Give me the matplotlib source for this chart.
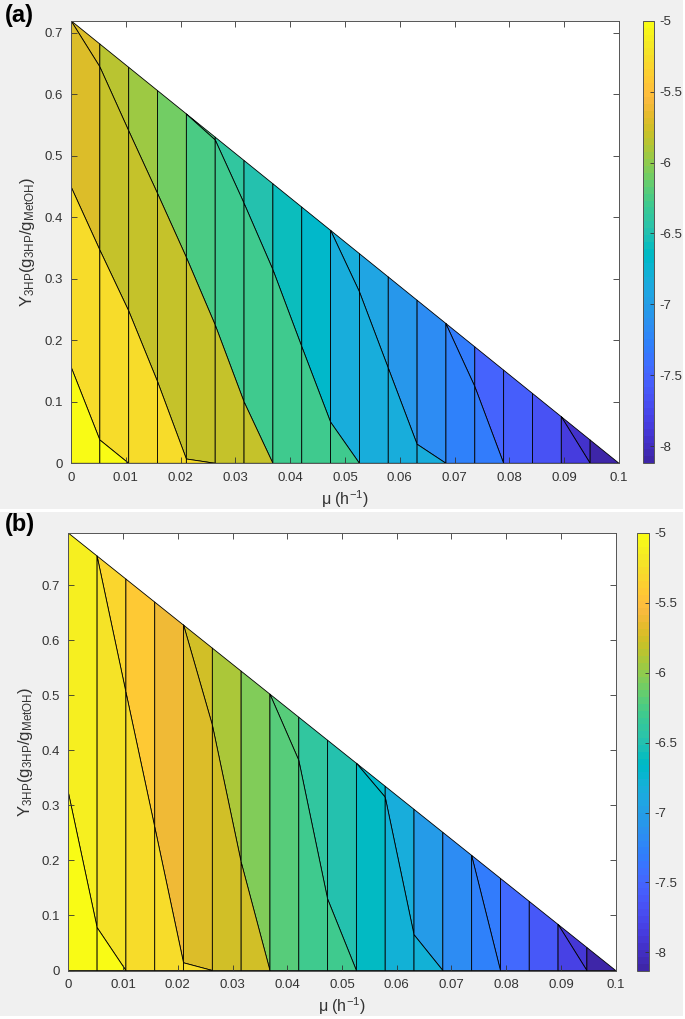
import numpy as np
import matplotlib.pyplot as plt
from matplotlib.collections import PolyCollection
from matplotlib.colors import ListedColormap, Normalize
from matplotlib.patches import Rectangle

plt.rcParams['font.family'] = ['Liberation Sans', 'DejaVu Sans']
plt.rcParams['mathtext.default'] = 'regular'

# MATLAB parula (64 colours)
PARULA = [
    [0.2422, 0.1504, 0.6603], [0.2504, 0.1650, 0.7076], [0.2578, 0.1818, 0.7511], [0.2647, 0.1978, 0.7952],
    [0.2706, 0.2147, 0.8364], [0.2751, 0.2342, 0.8710], [0.2783, 0.2559, 0.8991], [0.2803, 0.2782, 0.9221],
    [0.2813, 0.3006, 0.9414], [0.2810, 0.3228, 0.9579], [0.2795, 0.3447, 0.9717], [0.2760, 0.3667, 0.9829],
    [0.2699, 0.3892, 0.9906], [0.2602, 0.4123, 0.9952], [0.2440, 0.4358, 0.9988], [0.2206, 0.4603, 0.9973],
    [0.1963, 0.4847, 0.9892], [0.1834, 0.5074, 0.9798], [0.1786, 0.5289, 0.9682], [0.1764, 0.5499, 0.9520],
    [0.1687, 0.5703, 0.9359], [0.1540, 0.5902, 0.9218], [0.1460, 0.6091, 0.9079], [0.1380, 0.6276, 0.8973],
    [0.1248, 0.6459, 0.8883], [0.1113, 0.6635, 0.8763], [0.0952, 0.6798, 0.8598], [0.0689, 0.6948, 0.8394],
    [0.0297, 0.7082, 0.8163], [0.0036, 0.7203, 0.7917], [0.0067, 0.7312, 0.7660], [0.0433, 0.7411, 0.7394],
    [0.0964, 0.7500, 0.7120], [0.1408, 0.7584, 0.6842], [0.1717, 0.7670, 0.6554], [0.1938, 0.7758, 0.6251],
    [0.2161, 0.7843, 0.5923], [0.2470, 0.7918, 0.5567], [0.2906, 0.7973, 0.5188], [0.3406, 0.8008, 0.4789],
    [0.3909, 0.8029, 0.4354], [0.4456, 0.8024, 0.3909], [0.5044, 0.7993, 0.3480], [0.5616, 0.7942, 0.3045],
    [0.6174, 0.7876, 0.2612], [0.6720, 0.7793, 0.2227], [0.7242, 0.7698, 0.1910], [0.7738, 0.7598, 0.1646],
    [0.8203, 0.7498, 0.1535], [0.8634, 0.7406, 0.1596], [0.9035, 0.7330, 0.1774], [0.9393, 0.7288, 0.2100],
    [0.9728, 0.7298, 0.2394], [0.9956, 0.7434, 0.2371], [0.9970, 0.7659, 0.2199], [0.9952, 0.7893, 0.2028],
    [0.9892, 0.8136, 0.1885], [0.9786, 0.8386, 0.1766], [0.9676, 0.8639, 0.1643], [0.9610, 0.8890, 0.1537],
    [0.9597, 0.9135, 0.1423], [0.9628, 0.9373, 0.1265], [0.9691, 0.9606, 0.1064], [0.9769, 0.9839, 0.0805]]
parula = ListedColormap(PARULA)

# growth rate grid (20 points, 19 strips)
mu = np.linspace(0, 0.1, 20)
mu_ticks = [0, 0.01, 0.02, 0.03, 0.04, 0.05, 0.06, 0.07, 0.08, 0.09, 0.1]
mu_ticklabels = ['0', '0.01', '0.02', '0.03', '0.04', '0.05', '0.06', '0.07', '0.08', '0.09', '0.1']
y_ticks = [0, 0.1, 0.2, 0.3, 0.4, 0.5, 0.6, 0.7]
cb_ticks = [-8, -7.5, -7, -6.5, -6, -5.5, -5]

# ---- panel (a) ----
a_ymax = 0.72
a_clim = (-8.12, -5.0)
# boundary lines: (first grid index, yield at each grid point)
a_lineA = (0, [0.72, 0.645, 0.541, 0.439, 0.335, 0.225, 0.100, 0.0])
a_lineB = (0, [0.450, 0.347, 0.248, 0.133, 0.007, 0.0])
a_lineC = (0, [0.157, 0.038, 0.0])
a_lineD = (4, [0.568, 0.526, 0.423, 0.315, 0.190, 0.067, 0.0])
a_lineE = (9, [0.379, 0.279, 0.155, 0.031, 0.0])
a_lineF = (13, [0.227, 0.125, 0.0])
a_lineG = (17, [0.0758, 0.0])
# objective value of each cell, per strip, top to bottom
a_values = [
    [-5.70, -5.70, -5.25, -5.00],
    [-5.84, -5.78, -5.25, -5.03],
    [-5.97, -5.78, -5.25],
    [-6.10, -5.78, -5.25],
    [-6.24, -6.24, -5.78, -5.25],
    [-6.39, -6.30, -5.78],
    [-6.49, -6.30, -5.78],
    [-6.59, -6.30],
    [-6.69, -6.30],
    [-6.84, -6.84, -6.30],
    [-6.92, -6.85],
    [-7.08, -6.85],
    [-7.18, -6.85],
    [-7.30, -7.28],
    [-7.50, -7.30],
    [-7.57],
    [-7.68],
    [-7.95, -7.85],
    [-8.12],
]

# ---- panel (b) ----
b_ymax = 0.795
b_clim = (-8.13, -5.0)
b_lineP = (1, [0.753, 0.506, 0.261, 0.014, 0.0])
b_lineQ = (0, [0.324, 0.078, 0.0])
b_lineR = (4, [0.628, 0.446, 0.197, 0.0])
b_lineS = (7, [0.502, 0.382, 0.130, 0.0])
b_lineT = (10, [0.3766, 0.315, 0.065, 0.0])
b_lineU = (14, [0.209, 0.0])
b_lineV = (17, [0.0837, 0.0])
b_values = [
    [-5.10, -5.00],
    [-5.30, -5.22, -5.02],
    [-5.44, -5.25],
    [-5.59, -5.25],
    [-5.74, -5.72, -5.25],
    [-5.89, -5.76],
    [-6.04, -5.78],
    [-6.20, -6.20],
    [-6.37, -6.30],
    [-6.49, -6.30],
    [-6.67, -6.65],
    [-6.82, -6.78],
    [-7.03, -6.80],
    [-7.18],
    [-7.33, -7.25],
    [-7.45],
    [-7.63],
    [-7.92, -7.80],
    [-8.13],
]


def build_cells(ymax, lines, values):
    top = ymax * (1 - mu / mu[-1])
    polys, vals = [], []
    for i in range(len(mu) - 1):
        active = []
        for s, ys in lines:
            e = s + len(ys) - 1
            if s <= i and i + 1 <= e:
                active.append((ys[i - s], ys[i + 1 - s]))
        active.sort(key=lambda p: -(p[0] + p[1]))
        bounds = [(top[i], top[i + 1])] + active + [(0.0, 0.0)]
        for k in range(len(bounds) - 1):
            (ul, ur), (ll, lr) = bounds[k], bounds[k + 1]
            polys.append([(mu[i], ul), (mu[i + 1], ur), (mu[i + 1], lr), (mu[i], ll)])
            vals.append(values[i][k])
    return polys, np.array(vals)


def draw_panel(ax, cax, ymax, clim, lines, values):
    polys, vals = build_cells(ymax, lines, values)
    pc = PolyCollection(polys, array=vals, cmap=parula, norm=Normalize(*clim),
                        edgecolors='black', linewidths=0.6)
    ax.add_collection(pc)
    ax.set_xlim(0, 0.1)
    ax.set_ylim(0, ymax)
    ax.set_xticks(mu_ticks)
    ax.set_xticklabels(mu_ticklabels)
    ax.set_yticks(y_ticks)
    ax.set_yticklabels([f'{t:g}' for t in y_ticks])
    ax.tick_params(direction='in', top=True, right=True, length=4, width=0.6,
                   labelsize=9.5, colors='#333333', pad=6)
    for sp in ax.spines.values():
        sp.set_color('#555555')
        sp.set_linewidth(0.7)
    ax.set_xlabel(r'μ (h$^{-1}$)', fontsize=11.5, color='#333333', labelpad=3)
    ax.set_ylabel(r'Y$_{3HP}$(g$_{3HP}$/g$_{MetOH}$)', fontsize=12, color='#333333', labelpad=5)
    ax.set_facecolor('white')
    cb = plt.colorbar(pc, cax=cax)
    cb.set_ticks(cb_ticks)
    cb.set_ticklabels([f'{t:g}' for t in cb_ticks])
    cb.ax.tick_params(direction='in', length=3, width=0.6, labelsize=9.5, colors='#333333', pad=4)
    cb.outline.set_edgecolor('#555555')
    cb.outline.set_linewidth(0.7)
    return pc


W, H = 685, 1019
fig = plt.figure(figsize=(W / 100, H / 100), dpi=100)
fig.patch.set_facecolor('white')
fig.patches.append(Rectangle((0, 1 - 509 / H), 683 / W, 509 / H, transform=fig.transFigure,
                             facecolor='#f0f0f0', edgecolor='none', zorder=-10))
fig.patches.append(Rectangle((0, 1 - 1016 / H), 683 / W, 504 / H, transform=fig.transFigure,
                             facecolor='#f0f0f0', edgecolor='none', zorder=-10))

ax_a = fig.add_axes([71 / W, 1 - 463.3 / H, 548 / W, 442.6 / H])
cax_a = fig.add_axes([642.7 / W, 1 - 463.3 / H, 11 / W, 442.6 / H])
ax_b = fig.add_axes([68.3 / W, 1 - 970.5 / H, 547.4 / W, 437.5 / H])
cax_b = fig.add_axes([636.7 / W, 1 - 970.5 / H, 12 / W, 437.5 / H])

draw_panel(ax_a, cax_a, a_ymax, a_clim,
           [a_lineA, a_lineB, a_lineC, a_lineD, a_lineE, a_lineF, a_lineG], a_values)
draw_panel(ax_b, cax_b, b_ymax, b_clim,
           [b_lineP, b_lineQ, b_lineR, b_lineS, b_lineT, b_lineU, b_lineV], b_values)

fig.text(5 / W, 1 - 4 / H, '(a)', fontsize=17, fontweight='bold', va='top', ha='left')
fig.text(5 / W, 1 - 513 / H, '(b)', fontsize=17, fontweight='bold', va='top', ha='left')

fig.savefig('out.png', dpi=100)
